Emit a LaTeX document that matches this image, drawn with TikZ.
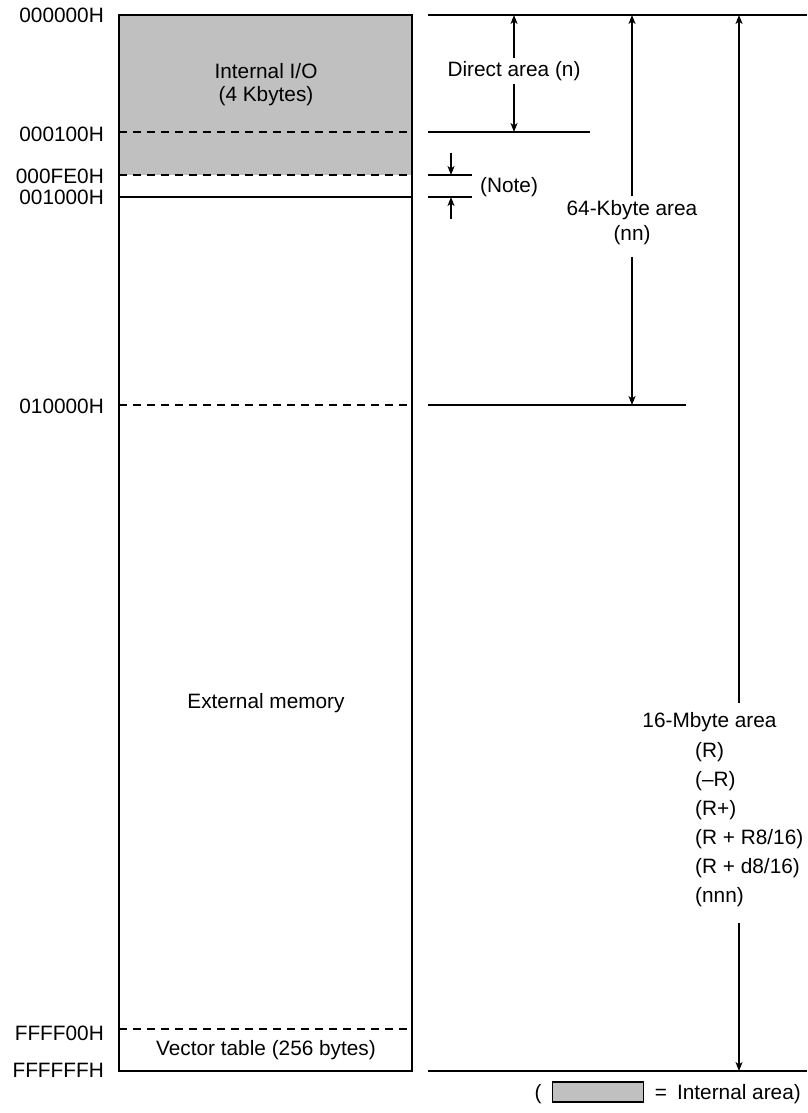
\documentclass[tikz,border=0pt]{standalone}
\usepackage{fontspec}
\setmainfont{Liberation Sans}
\usetikzlibrary{arrows.meta}
\definecolor{iogray}{HTML}{C0C0C0}
\begin{document}
\begin{tikzpicture}[x=1pt,y=-1pt,
  txt/.style={font=\fontsize{20.8}{25}\selectfont, inner sep=0pt},
  addr/.style={txt, anchor=east},
  frame/.style={line width=1.6pt},
  rule/.style={line width=1.6pt},
  dsh/.style={line width=1.3pt, dash pattern=on 8pt off 6pt},
  arr/.style={line width=1.3pt, -{Stealth[length=9pt,width=7pt,inset=2.5pt]}},
]
\useasboundingbox (0,0) rectangle (807,1113);

% ---------- memory box ----------
\coordinate (boxTL) at (119,15);
\coordinate (boxBR) at (412,1071);
\fill[iogray] (119,15) rectangle (412,175);
\draw[dsh] (119,132) -- (412,132);
\draw[dsh] (119,175) -- (412,175);
\draw[frame] (119,197) -- (412,197);
\draw[dsh] (119,405) -- (412,405);
\draw[dsh] (119,1029) -- (412,1029);
\draw[frame] (boxTL) rectangle (boxBR);

% ---------- address labels ----------
\node[addr] (a1) at (104,15)   {000000H};
\node[addr] (a2) at (104,134)  {000100H};
\node[addr] (a3) at (104,176)  {000FE0H};
\node[addr] (a4) at (104,197)  {001000H};
\node[addr] (a5) at (104,406)  {010000H};
\node[addr] (a6) at (104,1033) {FFFF00H};
\node[addr] (a7) at (104,1070) {FFFFFFH};

% ---------- area texts ----------
\node[txt] (io1) at (266,71) {Internal I/O};
\node[txt] (io2) at (266,96) {(4 Kbytes)};
\node[txt] (ext) at (266,703) {External memory};
\node[txt] (vec) at (266,1050) {Vector table (256 bytes)};

% ---------- right-hand rules ----------
\coordinate (topL) at (428,15);     \coordinate (topR) at (807,15);
\coordinate (dirL) at (428,132);    \coordinate (dirR) at (590,132);
\coordinate (n1L) at (428,175);     \coordinate (n1R) at (472,175);
\coordinate (n2L) at (428,197);     \coordinate (n2R) at (472,197);
\coordinate (kL) at (428,405);      \coordinate (kR) at (686,405);
\coordinate (botL) at (428,1071);   \coordinate (botR) at (807,1071);
\draw[rule] (topL) -- (topR);
\draw[rule] (dirL) -- (dirR);
\draw[rule] (n1L) -- (n1R);
\draw[rule] (n2L) -- (n2R);
\draw[rule] (kL) -- (kR);
\draw[rule] (botL) -- (botR);

% ---------- Direct area ----------
\node[txt, inner sep=3pt] (dir) at (514,71) {Direct area (n)};
\draw[arr] (dir.north) -- (dir.north |- topL);
\draw[arr] (dir.south) -- (dir.south |- dirL);

% ---------- Note ----------
\coordinate (nt1) at (451,153);
\coordinate (nt2) at (451,219);
\draw[arr] (nt1) -- (nt1 |- n1L);
\draw[arr] (nt2) -- (nt2 |- n2L);
\node[txt, anchor=west] (note) at (480,187) {(Note)};

% ---------- 64-Kbyte area ----------
\node[txt, inner sep=4pt] (k64a) at (632,210) {64-Kbyte area};
\node[txt, inner sep=12pt] (k64b) at (632,235) {(nn)};
\draw[arr] (k64a.north) -- (k64a.north |- topL);
\draw[arr] (k64b.south) -- (k64b.south |- kL);

% ---------- 16-Mbyte area ----------
\node[txt] (m0) at (709.5,722) {16-Mbyte area};
\node[txt, anchor=west] (m1) at (695,752) {(R)};
\node[txt, anchor=west] (m2) at (695,781) {(--R)};
\node[txt, anchor=west] (m3) at (695,810) {(R+)};
\node[txt, anchor=west] (m4) at (695,839) {(R + R8/16)};
\node[txt, anchor=west] (m5) at (695,868) {(R + d8/16)};
\node[txt, anchor=west] (m6) at (695,897) {(nnn)};
\coordinate (mUp) at (739,703);
\coordinate (mDn) at (739,923);
\draw[arr] (mUp) -- (mUp |- topL);
\draw[arr] (mDn) -- (mDn |- botL);

% ---------- legend ----------
\node[txt] (lp) at (538,1094) {(};
\node[draw, line width=1.1pt, fill=iogray, minimum width=91pt, minimum height=20pt, inner sep=0pt, anchor=west] (lbox) at (552,1092) {};
\node[txt] (leq) at (661,1094) {=};
\node[txt, anchor=east] (ltx) at (801,1094) {Internal area)};
\end{tikzpicture}
\end{document}
